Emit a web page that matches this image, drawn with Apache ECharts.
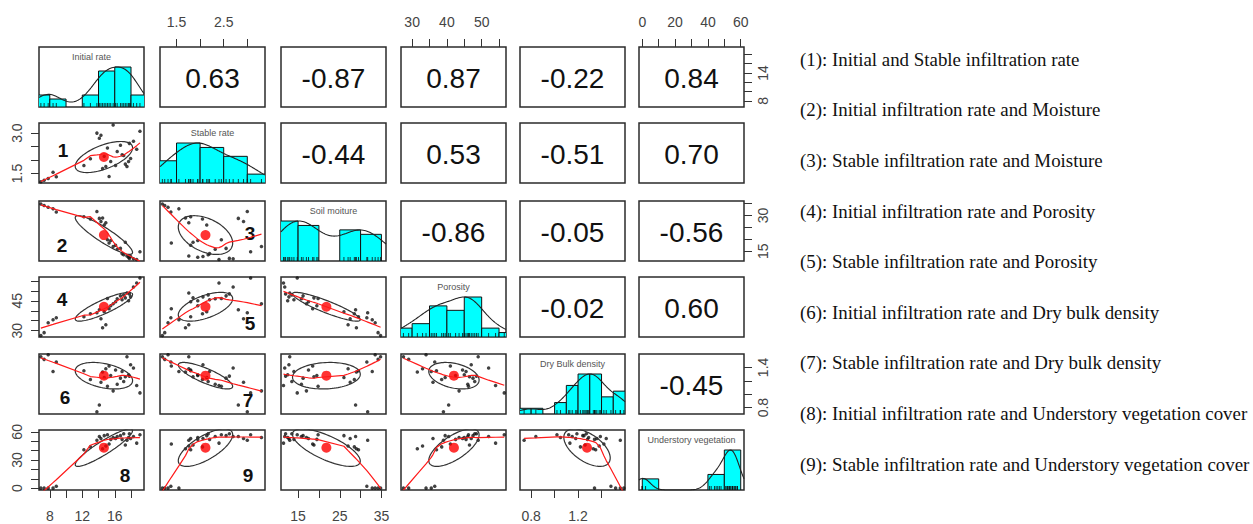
<!DOCTYPE html>
<html>
<head>
<meta charset="utf-8">
<script src="https://cdn.jsdelivr.net/npm/echarts@6/dist/echarts.min.js"></script>
<style>
  html, body { margin: 0; padding: 0; background: #fff; }
  #main { width: 1253px; height: 524px; }
</style>
</head>
<body>
<div id="main"></div>
<script>
// 数据：30 个样点，6 个变量
var initialRate = [6.9, 7.3, 7.8, 8.4, 8.8, 12.2, 13.0, 13.8, 14.1, 14.3, 14.5, 14.7, 14.9, 15.1, 15.3, 15.5,
  15.8, 16.1, 16.3, 16.7, 16.9, 17.1, 17.3, 17.5, 17.7, 17.8, 17.95, 18.3, 18.7, 19.1];
var stableRate = [1.20, 1.25, 1.32, 1.55, 1.38, 1.80, 2.05, 3.00, 2.81, 2.92, 1.69, 2.14, 1.76, 2.45, 1.39, 1.95,
  3.30, 1.80, 2.32, 2.55, 2.20, 2.17, 1.85, 1.76, 1.95, 2.62, 2.06, 2.70, 2.40, 3.07];
var soilMoisture = [34.8, 34.2, 33.5, 32.8, 31.5, 29.5, 28.5, 31.7, 28.8, 27.5, 29.0, 26.0, 27.0, 19.8, 18.5, 19.5,
  17.0, 17.5, 15.8, 16.2, 14.0, 13.5, 18.8, 13.0, 12.5, 12.0, 12.8, 11.8, 11.5, 14.8];
var porosity = [27.5, 29.0, 34.0, 35.5, 36.5, 37.0, 38.5, 39.0, 40.5, 36.0, 31.5, 39.5, 33.0, 46.2, 41.0, 42.5,
  43.5, 44.5, 46.0, 47.5, 45.5, 48.0, 46.5, 49.0, 45.0, 48.5, 47.0, 52.0, 54.0, 56.5];
var bulkDensity = [1.56, 1.52, 1.59, 1.34, 1.48, 1.35, 1.22, 0.74, 0.84, 1.18, 1.33, 1.25, 1.38, 1.12, 1.42, 1.28,
  1.05, 1.36, 1.15, 1.24, 1.34, 1.19, 1.26, 1.56, 1.29, 1.27, 1.44, 1.39, 1.13, 1.02];
var understoryCover = [0, 0, 0, 0, 2, 41, 44, 51, 55, 53, 42, 56, 45, 57, 47, 52,
  54, 53, 55, 56, 52, 58, 46, 51, 54, 58, 53, 55, 48, 57];

var varNames = ['Initial rate', 'Stable rate', 'Soil moiture', 'Porosity', 'Dry Bulk density', 'Understory vegetation'];
// 上三角相关系数（按行）
var corrLabels = [
  ['0.63', '-0.87', '0.87', '-0.22', '0.84'],
  ['-0.44', '0.53', '-0.51', '0.70'],
  ['-0.86', '-0.05', '-0.56'],
  ['-0.02', '0.60'],
  ['-0.45']
];
var pairNumbers = ['1', '2', '3', '4', '5', '6', '7', '8', '9'];
var captions = [
  '(1): Initial and Stable infiltration rate',
  '(2): Initial infiltration rate and Moisture',
  '(3): Stable infiltration rate and Moisture',
  '(4): Initial infiltration rate and Porosity',
  '(5): Stable infiltration rate and Porosity',
  '(6): Initial infiltration rate and Dry bulk density',
  '(7): Stable infiltration rate and Dry bulk density',
  '(8): Initial infiltration rate and Understory vegetation cover',
  '(9): Stable infiltration rate and Understory vegetation cover'
];
var histBreaks = [
  [6, 8, 10, 12, 14, 16, 18, 20],
  [1, 1.5, 2, 2.5, 3, 3.5],
  [10, 15, 20, 25, 30, 35],
  [25, 30, 35, 40, 45, 50, 55, 60],
  [0.7, 0.8, 0.9, 1.0, 1.1, 1.2, 1.3, 1.4, 1.5, 1.6],
  [0, 10, 20, 30, 40, 50, 60]
];
var tickValues = [
  [8, 10, 12, 14, 16, 18],
  [1.5, 2, 2.5, 3],
  [15, 20, 25, 30, 35],
  [30, 35, 40, 45, 50, 55],
  [0.8, 1.0, 1.2, 1.4],
  [0, 10, 20, 30, 40, 50, 60]
];
var colTickLabels = [[8, 12, 16], [1.5, 2.5], [15, 25, 35], [30, 40, 50], [0.8, 1.2], [0, 20, 40, 60]];
var rowTickLabels = [[8, 14], [1.5, 3.0], [15, 30], [30, 45], [0.8, 1.4], [0, 30, 60]];

// 布局
var vars = [initialRate, stableRate, soilMoisture, porosity, bulkDensity, understoryCover];
var axisRange = [[6.67, 19.6], [1.15, 3.375], [10.9, 36.1], [26.8, 57], [0.705, 1.6], [-2, 62]];
var decimals = [0, 1, 0, 0, 1, 0];
var colLeft = [39, 160, 281, 401, 520, 639];
var rowTop = [47, 123, 201, 277, 354, 430];
var panelW = 105, panelH = 60;
// 编号位置：[行, 列, 面板内 x, 面板内 y]
var numberPos = [[1, 0, 24, 27], [2, 0, 23, 44], [2, 1, 90, 32], [3, 0, 23, 22], [3, 1, 90, 46],
  [4, 0, 26, 43], [4, 1, 88, 46], [5, 0, 86, 45], [5, 1, 88, 45]];

function mean(a) { var s = 0; a.forEach(function(v) { s += v; }); return s / a.length; }
function sd(a) {
  var m = mean(a), s = 0;
  a.forEach(function(v) { s += (v - m) * (v - m); });
  return Math.sqrt(s / (a.length - 1));
}
function corr(a, b) {
  var ma = mean(a), mb = mean(b), sab = 0, saa = 0, sbb = 0;
  for (var i = 0; i < a.length; i++) {
    sab += (a[i] - ma) * (b[i] - mb); saa += (a[i] - ma) * (a[i] - ma); sbb += (b[i] - mb) * (b[i] - mb);
  }
  return sab / Math.sqrt(saa * sbb);
}
function quantile(a, p) {
  var s = a.slice().sort(function(x, y) { return x - y; });
  var h = (s.length - 1) * p, lo = Math.floor(h);
  return s[lo] + (h - lo) * ((s[Math.min(lo + 1, s.length - 1)]) - s[lo]);
}
function median(a) { return quantile(a, 0.5); }

// lowess（f = 2/3, iter = 3）
function lowess(xv, yv, f, iter) {
  var n = xv.length;
  var idx = xv.map(function(v, i) { return i; }).sort(function(a, b) { return xv[a] - xv[b]; });
  var x = idx.map(function(i) { return xv[i]; });
  var y = idx.map(function(i) { return yv[i]; });
  var ns = Math.max(2, Math.min(n, Math.round(f * n)));
  var rw = x.map(function() { return 1; });
  var fit = new Array(n);
  for (var it = 0; it <= iter; it++) {
    for (var i = 0; i < n; i++) {
      var d = x.map(function(v) { return Math.abs(v - x[i]); });
      var h = d.slice().sort(function(a, b) { return a - b; })[ns - 1];
      var sw = 0, sx = 0, sy = 0, sxx = 0, sxy = 0;
      for (var j = 0; j < n; j++) {
        var u = h > 0 ? d[j] / h : 0;
        var w = u < 0.999 ? Math.pow(1 - u * u * u, 3) : 0;
        w *= rw[j];
        sw += w; sx += w * x[j]; sy += w * y[j]; sxx += w * x[j] * x[j]; sxy += w * x[j] * y[j];
      }
      if (sw <= 0) { fit[i] = y[i]; continue; }
      var mx = sx / sw, my = sy / sw, vx = sxx / sw - mx * mx;
      var b = vx > 1e-10 ? (sxy / sw - mx * my) / vx : 0;
      fit[i] = my + b * (x[i] - mx);
    }
    if (it === iter) break;
    var res = y.map(function(v, k) { return Math.abs(v - fit[k]); });
    var m6 = 6 * median(res);
    if (m6 <= 0) break;
    rw = res.map(function(r) { var u = r / m6; return u < 1 ? Math.pow(1 - u * u, 2) : 0; });
  }
  return x.map(function(v, k) { return [v, fit[k]]; });
}

// 相关椭圆（1 个标准差）
function ellipsePoints(xv, yv) {
  var mx = mean(xv), my = mean(yv), sx = sd(xv), sy = sd(yv), r = corr(xv, yv);
  var t = (r >= 0 ? 1 : -1) / Math.SQRT2;
  var a = Math.sqrt(1 + r), b = Math.sqrt(1 - r);
  var pts = [];
  for (var k = 0; k <= 100; k++) {
    var ang = k * 2 * Math.PI / 100, c = Math.cos(ang), s = Math.sin(ang);
    pts.push([(c * a * t - s * b * t) * sx + mx, (c * a * t + s * b * t) * sy + my]);
  }
  return pts;
}

// 直方图（右闭区间），按最高柱归一化
function histBins(v, br) {
  var counts = [];
  for (var i = 0; i < br.length - 1; i++) counts.push(0);
  v.forEach(function(x) {
    for (var i = 0; i < br.length - 1; i++) {
      if ((x > br[i] || (i === 0 && x >= br[i])) && x <= br[i + 1] + 1e-9) { counts[i]++; break; }
    }
  });
  var mx = Math.max.apply(null, counts);
  var out = [];
  counts.forEach(function(c, i) { if (c > 0) out.push([br[i], br[i + 1], c / mx]); });
  return out;
}

// 核密度（bw.nrd），按最大值归一化
function densityCurve(v, range) {
  var n = v.length;
  var bw = 1.06 * Math.min(sd(v), (quantile(v, 0.75) - quantile(v, 0.25)) / 1.34) * Math.pow(n, -0.2);
  var pts = [], ymax = 0;
  for (var k = 0; k <= 160; k++) {
    var x = range[0] + (range[1] - range[0]) * k / 160, s = 0;
    v.forEach(function(xi) { var z = (x - xi) / bw; s += Math.exp(-0.5 * z * z); });
    pts.push([x, s]); if (s > ymax) ymax = s;
  }
  return pts.map(function(p) { return [p[0], p[1] / ymax]; });
}

function fmt(j) {
  return function(val) { return Number(val).toFixed(decimals[j]); };
}

var grids = [], xAxes = [], yAxes = [], series = [], graphics = [];
var axisFont = { color: '#444', fontSize: 14, fontFamily: 'Liberation Sans, Arial, sans-serif' };

for (var i = 0; i < 6; i++) {
  for (var j = 0; j < 6; j++) {
    var k = i * 6 + j;
    grids.push({
      left: colLeft[j], top: rowTop[i], width: panelW, height: panelH,
      show: true, borderColor: '#2b2b2b', borderWidth: 1.5, backgroundColor: 'transparent'
    });

    // x 轴
    var xa = { type: 'value', gridIndex: k, min: axisRange[j][0], max: axisRange[j][1], show: false,
      axisLine: { show: false, onZero: false }, splitLine: { show: false } };
    var isTop = (i === 0 && j % 2 === 1), isBottom = (i === 5 && j % 2 === 0);
    if (isTop || isBottom) {
      xa.show = true;
      xa.position = isTop ? 'top' : 'bottom';
      xa.axisTick = { show: true, inside: false, length: 8, customValues: tickValues[j],
        lineStyle: { color: '#333', width: 1 } };
      xa.axisLabel = Object.assign({ show: true, customValues: colTickLabels[j], margin: isTop ? 18 : 19,
        formatter: fmt(j) }, axisFont);
    }
    xAxes.push(xa);

    // y 轴
    var ya;
    if (i === j) {
      ya = { type: 'value', gridIndex: k, min: 0, max: 1.5, show: false,
        axisLine: { show: false, onZero: false }, splitLine: { show: false } };
    } else {
      ya = { type: 'value', gridIndex: k, min: axisRange[i][0], max: axisRange[i][1], show: false,
        axisLine: { show: false, onZero: false }, splitLine: { show: false } };
      var isLeft = (j === 0 && i % 2 === 1), isRight = (j === 5 && i % 2 === 0);
      if (isLeft || isRight) {
        ya.show = true;
        ya.position = isLeft ? 'left' : 'right';
        ya.axisTick = { show: true, inside: false, length: 8, customValues: tickValues[i],
          lineStyle: { color: '#333', width: 1 } };
        ya.axisLabel = Object.assign({ show: true, customValues: rowTickLabels[i], rotate: 90,
          margin: isLeft ? 15 : 12, formatter: fmt(i) }, axisFont);
      }
    }
    yAxes.push(ya);

    var cx = colLeft[j] + panelW / 2, cy = rowTop[i] + panelH / 2;

    if (i === j) {
      // 对角线：直方图 + 密度曲线 + 地毯图
      series.push({
        type: 'custom', xAxisIndex: k, yAxisIndex: k, clip: true,
        data: histBins(vars[i], histBreaks[i]),
        encode: { x: [0, 1], y: 2 },
        renderItem: function(params, api) {
          var p0 = api.coord([api.value(0), api.value(2)]);
          var p1 = api.coord([api.value(1), 0]);
          return { type: 'rect',
            shape: { x: p0[0], y: p0[1], width: p1[0] - p0[0], height: p1[1] - p0[1] },
            style: { fill: '#00FFFF', stroke: '#111', lineWidth: 1 } };
        }
      });
      series.push({
        type: 'line', xAxisIndex: k, yAxisIndex: k, showSymbol: false, clip: true,
        data: densityCurve(vars[i], axisRange[i]),
        lineStyle: { color: '#222', width: 1.1 }
      });
      series.push({
        type: 'scatter', xAxisIndex: k, yAxisIndex: k,
        data: vars[i].map(function(v) { return [v, 0]; }),
        symbol: 'rect', symbolSize: [1, 4], symbolOffset: [0, -2],
        itemStyle: { color: '#111' }
      });
      graphics.push({ type: 'text', x: cx, y: rowTop[i] + 10,
        style: { text: varNames[i], font: '9px "Liberation Sans", Arial', fill: '#555',
          align: 'center', verticalAlign: 'middle', textAlign: 'center', textVerticalAlign: 'middle' } });
    } else if (i > j) {
      // 下三角：散点 + 椭圆 + lowess + 均值点
      var xv = vars[j], yv = vars[i];
      series.push({
        type: 'scatter', xAxisIndex: k, yAxisIndex: k, clip: true,
        data: xv.map(function(v, n) { return [v, yv[n]]; }),
        symbolSize: 3.5, itemStyle: { color: '#111' }
      });
      series.push({
        type: 'line', xAxisIndex: k, yAxisIndex: k, showSymbol: false, clip: true,
        data: ellipsePoints(xv, yv), lineStyle: { color: '#333', width: 1.2 }
      });
      series.push({
        type: 'line', xAxisIndex: k, yAxisIndex: k, showSymbol: false, clip: true,
        data: lowess(xv, yv, 2 / 3, 3), lineStyle: { color: '#ff1a1a', width: 1.2 }
      });
      series.push({
        type: 'scatter', xAxisIndex: k, yAxisIndex: k,
        data: [[mean(xv), mean(yv)]], symbolSize: 10, itemStyle: { color: '#ff0000' }
      });
    } else {
      // 上三角：相关系数
      graphics.push({ type: 'text', x: cx, y: cy + 1,
        style: { text: corrLabels[i][j - i - 1], font: '28px "Liberation Sans", Arial', fill: '#111',
          align: 'center', verticalAlign: 'middle', textAlign: 'center', textVerticalAlign: 'middle' } });
    }
  }
}

numberPos.forEach(function(p, n) {
  graphics.push({ type: 'text', x: colLeft[p[1]] + p[2], y: rowTop[p[0]] + p[3],
    style: { text: pairNumbers[n], font: 'bold 19px "Liberation Sans", Arial', fill: '#111',
      align: 'center', verticalAlign: 'middle', textAlign: 'center', textVerticalAlign: 'middle' } });
});

captions.forEach(function(c, n) {
  graphics.push({ type: 'text', x: 800, y: 60 + n * 50.6, scaleX: 1.05,
    style: { text: c, font: '18px "Liberation Serif", "Times New Roman", serif', fill: '#111',
      align: 'left', verticalAlign: 'middle', textAlign: 'left', textVerticalAlign: 'middle' } });
});

var myChart = echarts.init(document.getElementById('main'), null, { renderer: 'svg' });
var option = {
  animation: false,
  backgroundColor: '#fff',
  grid: grids,
  xAxis: xAxes,
  yAxis: yAxes,
  series: series,
  graphic: graphics
};
myChart.setOption(option);
window.addEventListener('resize', function() {
  myChart.resize();
});
</script>
</body>
</html>
